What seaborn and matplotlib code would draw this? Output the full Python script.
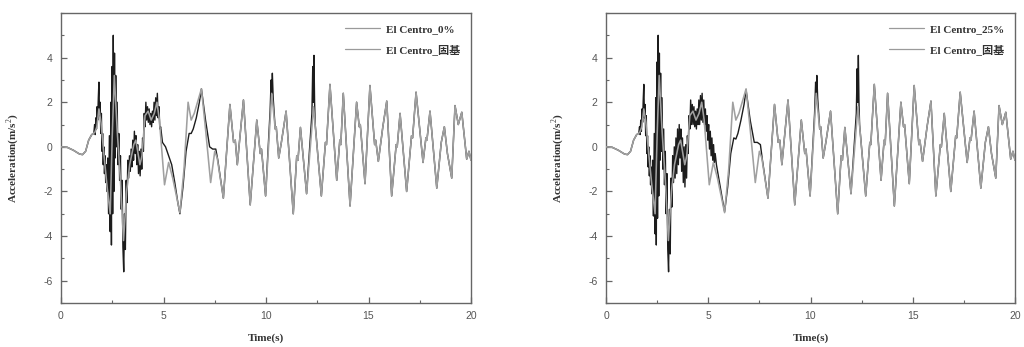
import matplotlib
matplotlib.use("Agg")
import matplotlib.pyplot as plt
from matplotlib.ticker import MultipleLocator
from matplotlib.font_manager import FontProperties
import seaborn as sns

# ---- fixed-base response (same record in both panels) ----
t_fixed = [0.00, 0.30, 0.60, 0.90, 1.05, 1.20, 1.35, 1.50, 1.65, 1.75, 1.85, 1.95,
           2.10, 2.25, 2.40, 2.50, 2.60, 2.75, 2.90, 3.05, 3.20, 3.35, 3.55, 3.65,
           3.85, 3.95, 4.10, 4.25, 4.40, 4.55, 4.68, 4.80, 5.05, 5.25, 5.45, 5.80,
           6.00, 6.20, 6.35, 6.50, 6.85, 7.05, 7.30, 7.50, 7.62, 7.92, 8.24, 8.42,
           8.50, 8.60, 8.90, 9.23, 9.55, 9.72, 9.78, 9.98, 10.28, 10.45, 10.50, 10.62,
           10.75, 10.98, 11.33, 11.50, 11.56, 11.68, 11.98, 12.32, 12.70, 12.90, 12.95, 13.12,
           13.45, 13.60, 13.65, 13.77, 14.10, 14.42, 14.55, 14.60, 14.83, 15.07, 15.30, 15.35,
           15.48, 15.70, 15.89, 16.13, 16.35, 16.40, 16.54, 16.86, 17.10, 17.15, 17.32, 17.66,
           17.80, 17.85, 18.00, 18.33, 18.55, 18.70, 18.85, 19.06, 19.22, 19.38, 19.55, 19.79,
           19.90, 20.00]
acc_fixed = [0.00, -0.02, -0.15, -0.32, -0.35, -0.20, 0.30, 0.55, 0.65, 0.90, 1.70, 1.10,
             -0.40, -1.80, -3.00, 0.50, 3.20, 0.60, -1.50, -4.20, -2.00, -0.80, 0.10, 0.30,
             -0.80, -0.40, 1.40, 1.60, 1.20, 1.50, 2.00, 1.20, -1.70, -0.70, -1.40, -2.95,
             -1.00, 2.00, 1.20, 1.50, 2.60, 0.80, -1.60, -0.20, -0.50, -2.30, 1.90, 0.20,
             0.30, -0.80, 2.10, -2.60, 1.20, -0.30, -0.10, -2.20, 2.40, 0.80, 0.90, -0.50,
             0.20, 1.60, -3.00, -0.40, -0.60, 0.87, -2.10, 1.80, -2.20, 0.20, 0.10, 2.80,
             -1.50, 0.30, 0.10, 2.40, -2.65, 2.00, 0.90, 1.00, -1.65, 2.75, 0.10, 0.30,
             -0.65, 0.90, 2.05, -2.20, 0.10, 0.00, 1.50, -2.00, 0.50, 0.40, 2.45, -0.70,
             0.40, 0.30, 1.60, -1.85, 0.20, 0.90, -0.30, -1.40, 1.85, 1.00, 1.55, -0.55,
             -0.20, -0.60]

# ---- 0% isolation response ----
t_iso0 = [0.00, 0.30, 0.60, 0.90, 1.05, 1.20, 1.35, 1.50, 1.60, 1.64, 1.67, 1.70,
          1.73, 1.76, 1.79, 1.82, 1.85, 1.88, 1.91, 1.94, 1.97, 2.00, 2.03, 2.06,
          2.09, 2.12, 2.15, 2.18, 2.20, 2.24, 2.28, 2.32, 2.36, 2.40, 2.43, 2.46,
          2.49, 2.52, 2.55, 2.58, 2.61, 2.64, 2.67, 2.70, 2.74, 2.78, 2.82, 2.86,
          2.90, 2.94, 2.98, 3.02, 3.06, 3.10, 3.14, 3.18, 3.22, 3.26, 3.30, 3.34,
          3.38, 3.42, 3.46, 3.50, 3.54, 3.58, 3.62, 3.66, 3.70, 3.74, 3.78, 3.82,
          3.86, 3.90, 3.94, 3.98, 4.02, 4.06, 4.10, 4.14, 4.18, 4.22, 4.26, 4.30,
          4.34, 4.38, 4.42, 4.46, 4.50, 4.54, 4.58, 4.62, 4.66, 4.70, 4.74, 4.78,
          4.82, 4.86, 4.95, 5.10, 5.25, 5.40, 5.55, 5.70, 5.80, 5.95, 6.10, 6.25,
          6.35, 6.45, 6.60, 6.75, 6.85, 7.05, 7.25, 7.40, 7.55, 7.65, 7.92, 8.24,
          8.42, 8.50, 8.60, 8.90, 9.23, 9.55, 9.72, 9.78, 9.98, 10.20, 10.25, 10.28,
          10.31, 10.35, 10.45, 10.50, 10.62, 10.75, 10.98, 11.33, 11.50, 11.56, 11.68, 11.98,
          12.24, 12.28, 12.31, 12.34, 12.37, 12.40, 12.70, 12.90, 12.95, 13.12, 13.45, 13.60,
          13.65, 13.77, 14.10, 14.42, 14.55, 14.60, 14.83, 15.07, 15.30, 15.35, 15.48, 15.70,
          15.89, 16.13, 16.35, 16.40, 16.54, 16.86, 17.10, 17.15, 17.32, 17.66, 17.80, 17.85,
          18.00, 18.33, 18.55, 18.70, 18.85, 19.06, 19.22, 19.38, 19.55, 19.79, 19.90, 20.00]
acc_iso0 = [0.00, -0.02, -0.15, -0.32, -0.35, -0.20, 0.30, 0.55, 0.60, 1.00, 0.55, 1.30,
            0.80, 1.80, 1.20, 2.20, 2.90, 1.40, 2.00, 0.60, 1.50, -0.20, 0.60, -0.80,
            0.00, -1.20, -0.40, -1.60, -0.80, -2.00, -0.50, -3.00, 0.50, -3.80, 2.00, -4.40,
            3.60, -3.00, 5.00, -2.00, 4.20, -0.50, 3.20, 0.00, 2.00, -0.80, 0.60, -1.50,
            -0.40, -2.80, -1.50, -4.50, -5.60, -3.00, -4.60, -1.50, -2.50, -0.60, -1.40, -0.40,
            -1.10, -0.10, -0.90, 0.30, -0.60, 0.70, -0.30, 0.50, -0.80, 0.10, -1.20, -0.20,
            -1.30, -0.10, -1.00, 0.40, -0.20, 1.50, 0.90, 2.00, 1.20, 1.80, 1.10, 1.70,
            1.00, 1.50, 0.90, 1.60, 1.10, 2.00, 1.20, 2.20, 1.40, 2.40, 1.30, 1.80,
            0.80, 0.90, 0.20, 0.00, -0.40, -0.80, -1.60, -2.50, -3.00, -1.80, -0.20, 0.60,
            0.60, 0.80, 1.30, 2.00, 2.60, 1.20, 0.00, -0.10, -0.10, -0.60, -2.30, 1.90,
            0.20, 0.30, -0.80, 2.10, -2.60, 1.20, -0.30, -0.10, -2.20, 1.60, 3.00, 2.40,
            3.30, 2.20, 0.80, 0.90, -0.50, 0.20, 1.60, -3.00, -0.40, -0.60, 0.87, -2.10,
            1.50, 3.60, 2.00, 4.10, 2.00, 1.00, -2.20, 0.20, 0.10, 2.80, -1.50, 0.30,
            0.10, 2.40, -2.65, 2.00, 0.90, 1.00, -1.65, 2.75, 0.10, 0.30, -0.65, 0.90,
            2.05, -2.20, 0.10, 0.00, 1.50, -2.00, 0.50, 0.40, 2.45, -0.70, 0.40, 0.30,
            1.60, -1.85, 0.20, 0.90, -0.30, -1.40, 1.85, 1.00, 1.55, -0.55, -0.20, -0.60]

# ---- 25% isolation response ----
t_iso25 = [0.00, 0.30, 0.60, 0.90, 1.05, 1.20, 1.35, 1.50, 1.60, 1.64, 1.67, 1.70,
           1.73, 1.76, 1.79, 1.82, 1.85, 1.88, 1.91, 1.94, 1.97, 2.00, 2.03, 2.06,
           2.09, 2.12, 2.15, 2.18, 2.20, 2.24, 2.28, 2.32, 2.36, 2.40, 2.43, 2.46,
           2.49, 2.52, 2.55, 2.58, 2.61, 2.64, 2.67, 2.70, 2.74, 2.78, 2.82, 2.86,
           2.90, 2.94, 2.98, 3.02, 3.06, 3.10, 3.14, 3.18, 3.22, 3.26, 3.30, 3.34,
           3.38, 3.42, 3.46, 3.50, 3.54, 3.58, 3.62, 3.66, 3.70, 3.74, 3.78, 3.82,
           3.86, 3.90, 3.94, 3.98, 4.02, 4.06, 4.10, 4.14, 4.18, 4.22, 4.26, 4.30,
           4.34, 4.38, 4.42, 4.46, 4.50, 4.54, 4.58, 4.62, 4.66, 4.70, 4.74, 4.78,
           4.82, 4.86, 4.90, 4.94, 4.98, 5.02, 5.06, 5.10, 5.14, 5.18, 5.22, 5.26,
           5.30, 5.34, 5.40, 5.55, 5.70, 5.80, 5.95, 6.10, 6.25, 6.35, 6.45, 6.60,
           6.75, 6.85, 7.05, 7.25, 7.40, 7.55, 7.65, 7.92, 8.24, 8.42, 8.50, 8.60,
           8.90, 9.23, 9.55, 9.72, 9.78, 9.98, 10.20, 10.25, 10.28, 10.31, 10.35, 10.45,
           10.50, 10.62, 10.75, 10.98, 11.33, 11.50, 11.56, 11.68, 11.98, 12.24, 12.28, 12.31,
           12.34, 12.37, 12.40, 12.70, 12.90, 12.95, 13.12, 13.45, 13.60, 13.65, 13.77, 14.10,
           14.42, 14.55, 14.60, 14.83, 15.07, 15.30, 15.35, 15.48, 15.70, 15.89, 16.13, 16.35,
           16.40, 16.54, 16.86, 17.10, 17.15, 17.32, 17.66, 17.80, 17.85, 18.00, 18.33, 18.55,
           18.70, 18.85, 19.06, 19.22, 19.38, 19.55, 19.79, 19.90, 20.00]
acc_iso25 = [0.00, -0.02, -0.15, -0.32, -0.35, -0.20, 0.30, 0.55, 0.60, 0.90, 0.55, 1.20,
             0.70, 1.70, 1.10, 2.10, 2.80, 1.30, 1.90, 0.50, 1.40, -0.30, 0.50, -0.90,
             0.00, -1.30, -0.40, -1.70, -0.90, -2.10, -0.60, -3.10, 0.60, -3.90, 2.20, -4.40,
             3.80, -3.20, 5.00, -2.20, 4.20, -0.60, 3.30, -0.20, 2.20, -1.00, 0.80, -1.70,
             -0.20, -3.00, -1.20, -4.60, -5.60, -2.80, -4.80, -1.40, -2.70, -0.40, -1.60, 0.00,
             -1.40, 0.40, -1.20, 0.80, -0.80, 1.00, -0.50, 0.80, -1.10, 0.40, -1.60, 0.00,
             -1.80, 0.10, -1.40, 0.50, -0.30, 1.40, 0.80, 2.10, 1.00, 1.90, 1.00, 1.80,
             0.90, 1.60, 0.80, 1.70, 1.00, 2.10, 1.00, 2.30, 1.20, 2.40, 1.10, 2.10,
             1.00, 1.70, 0.70, 1.40, 0.30, 1.00, -0.10, 0.70, -0.40, 0.40, -0.60, 0.10,
             -0.70, -0.30, -0.80, -1.60, -2.40, -2.90, -1.80, -0.30, 0.40, 0.35, 0.60, 1.20,
             1.90, 2.55, 1.20, 0.20, 0.20, 0.10, -0.60, -2.30, 1.90, 0.20, 0.30, -0.80,
             2.10, -2.60, 1.20, -0.30, -0.10, -2.20, 1.50, 2.90, 2.30, 3.20, 2.20, 0.80,
             0.90, -0.50, 0.20, 1.60, -3.00, -0.40, -0.60, 0.87, -2.10, 1.50, 3.50, 2.00,
             4.10, 2.00, 1.00, -2.20, 0.20, 0.10, 2.80, -1.50, 0.30, 0.10, 2.40, -2.65,
             2.00, 0.90, 1.00, -1.65, 2.75, 0.10, 0.30, -0.65, 0.90, 2.05, -2.20, 0.10,
             0.00, 1.50, -2.00, 0.50, 0.40, 2.45, -0.70, 0.40, 0.30, 1.60, -1.85, 0.20,
             0.90, -0.30, -1.40, 1.85, 1.00, 1.55, -0.55, -0.20, -0.60]

panel_labels = ["El Centro_0%", "El Centro_25%"]
fixed_label = "El Centro_固基"
x_label = "Time(s)"
y_label = "Acceleration(m/s$^2$)"

sns.set_style("ticks")
serif_cjk = ["Liberation Serif", "Noto Sans CJK SC", "DejaVu Sans"]
plt.rcParams["font.family"] = serif_cjk
plt.rcParams["axes.unicode_minus"] = False
plt.rcParams["mathtext.fontset"] = "custom"
plt.rcParams["mathtext.rm"] = "Liberation Serif"
plt.rcParams["mathtext.bf"] = "Liberation Serif:bold"

fig = plt.figure(figsize=(10.24, 3.47), dpi=100)
ax_l = fig.add_axes([61 / 1024, 44 / 347, 410 / 1024, 290 / 347])
ax_r = fig.add_axes([606 / 1024, 44 / 347, 409 / 1024, 290 / 347])

series = [(t_iso0, acc_iso0), (t_iso25, acc_iso25)]
legend_font = FontProperties(family=serif_cjk, weight="bold", size=8)
tick_font = FontProperties(family=["Liberation Sans"], size=7.5)

for ax, (t_iso, acc_iso), lab in zip([ax_l, ax_r], series, panel_labels):
    # isolated response underneath, fixed-base response drawn over it
    sns.lineplot(x=t_iso, y=acc_iso, ax=ax, color="#1c1c1c", lw=1.0,
                 sort=False, estimator=None, label=lab, zorder=2)
    sns.lineplot(x=t_fixed, y=acc_fixed, ax=ax, color="#a0a0a0", lw=1.15,
                 sort=False, estimator=None, label=fixed_label, zorder=3)

    ax.set_xlim(0, 20)
    ax.set_ylim(-7, 6)
    ax.xaxis.set_major_locator(MultipleLocator(5))
    ax.xaxis.set_minor_locator(MultipleLocator(2.5))
    ax.set_yticks([-6, -4, -2, 0, 2, 4])
    ax.yaxis.set_minor_locator(MultipleLocator(1))
    ax.tick_params(which="both", direction="in", colors="#666666",
                   top=False, right=False)
    ax.tick_params(which="major", length=4, width=0.9, pad=6)
    ax.tick_params(which="minor", length=2, width=0.8)
    for lbl in ax.get_xticklabels() + ax.get_yticklabels():
        lbl.set_fontproperties(tick_font)
        lbl.set_color("#555555")
    for sp in ax.spines.values():
        sp.set_visible(True)
        sp.set_color("#666666")
        sp.set_linewidth(1.0)

    ax.set_xlabel(x_label, fontsize=8, fontweight="bold", color="#333333", labelpad=9)
    ax.set_ylabel(y_label, fontsize=8, fontweight="bold", color="#333333", labelpad=16)

    leg = ax.legend(loc="upper right", frameon=False, prop=legend_font,
                    handlelength=3.2, labelspacing=0.9, borderaxespad=0.6,
                    handletextpad=0.5)
    for h in leg.get_lines():
        h.set_color("#9a9a9a")
        h.set_linewidth(0.9)
    for txt in leg.get_texts():
        txt.set_color("#333333")

fig.savefig("out.png", dpi=100, facecolor="white")
